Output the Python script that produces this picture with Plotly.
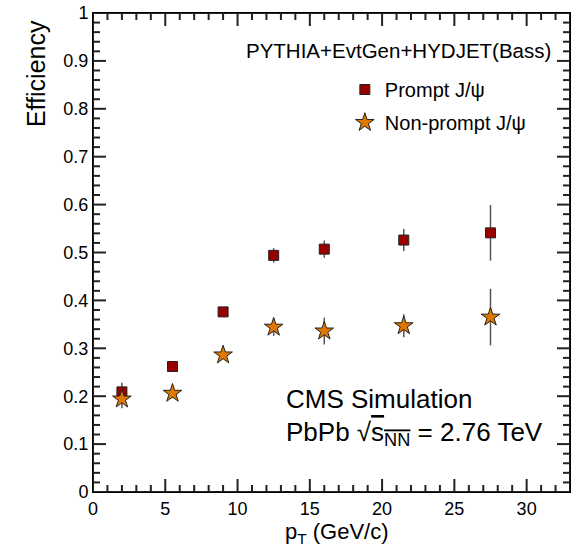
import plotly.graph_objects as go

# J/psi reconstruction efficiency vs pT (PbPb simulation)
pt = [2.0, 5.5, 9.0, 12.5, 16.0, 21.5, 27.5]
prompt_eff = [0.209, 0.262, 0.376, 0.494, 0.507, 0.526, 0.541]
prompt_err = [0.019, 0.006, 0.005, 0.015, 0.018, 0.023, 0.058]
nonprompt_eff = [0.194, 0.206, 0.286, 0.344, 0.336, 0.347, 0.365]
nonprompt_err = [0.019, 0.010, 0.008, 0.018, 0.028, 0.024, 0.059]

series_names = ["Prompt J/ψ", "Non-prompt J/ψ"]
x_range = [0, 33]
y_range = [0, 1]

# tick positions (major labelled, minor unlabelled)
x_major = [0, 5, 10, 15, 20, 25, 30]
x_minor = [v for v in range(0, 34) if v % 5 != 0]
y_major = [round(0.1 * i, 2) for i in range(11)]
y_minor = [round(0.02 * i, 2) for i in range(51) if i % 5 != 0]

FONT = "Liberation Sans, Arial, Helvetica, sans-serif"
ERR_COLOR = "#555555"
TICK_COLOR = "#222222"

W, H = 581, 553
MARGIN = dict(l=93, r=11, t=13, b=61)
plot_w = W - MARGIN["l"] - MARGIN["r"]
plot_h = H - MARGIN["t"] - MARGIN["b"]

# tick lengths in pixels, converted to axis units
MAJOR_PX, MINOR_PX = 13, 7
x_per_px = (x_range[1] - x_range[0]) / plot_w
y_per_px = (y_range[1] - y_range[0]) / plot_h

tick_x, tick_y = [], []
for vals, px in ((x_major, MAJOR_PX), (x_minor, MINOR_PX)):
    ln = px * y_per_px
    for v in vals:
        tick_x += [v, v, None, v, v, None]
        tick_y += [y_range[0], y_range[0] + ln, None, y_range[1], y_range[1] - ln, None]
for vals, px in ((y_major, MAJOR_PX), (y_minor, MINOR_PX)):
    ln = px * x_per_px
    for v in vals:
        tick_x += [x_range[0], x_range[0] + ln, None, x_range[1], x_range[1] - ln, None]
        tick_y += [v, v, None, v, v, None]

# frame around the plotting area
frame_x = [x_range[0], x_range[1], x_range[1], x_range[0], x_range[0]]
frame_y = [y_range[0], y_range[0], y_range[1], y_range[1], y_range[0]]

fig = go.Figure()

# inward ticks on all four sides of the frame
fig.add_trace(go.Scatter(
    x=tick_x, y=tick_y, mode="lines", showlegend=False, hoverinfo="skip",
    connectgaps=False, line=dict(color=TICK_COLOR, width=2),
))
fig.add_trace(go.Scatter(
    x=frame_x, y=frame_y, mode="lines", showlegend=False, hoverinfo="skip",
    line=dict(color=TICK_COLOR, width=2),
))

fig.add_trace(go.Scatter(
    x=pt, y=prompt_eff, mode="markers", name=series_names[0],
    legendgroup="a",
    marker=dict(symbol="square", size=10, color="#990000",
                line=dict(color="#222222", width=1)),
    error_y=dict(type="data", array=prompt_err, visible=True,
                 color=ERR_COLOR, thickness=1.5, width=0),
))

fig.add_trace(go.Scatter(
    x=pt, y=nonprompt_eff, mode="markers", name=series_names[1],
    legendgroup="b",
    marker=dict(symbol="star", size=14, color="#e07800",
                line=dict(color="#222222", width=1)),
    error_y=dict(type="data", array=nonprompt_err, visible=True,
                 color=ERR_COLOR, thickness=1.5, width=0),
))

axis_style = dict(
    showline=True, linecolor="black", linewidth=1, mirror=True,
    automargin=False, ticks="", showgrid=False, zeroline=False,
    tickfont=dict(family=FONT, size=18, color="black"),
)
fig.update_xaxes(range=x_range, tickvals=x_major, **axis_style)
fig.update_yaxes(range=y_range, tickvals=y_major, **axis_style)

annotations = [
    dict(text="Efficiency", x=-0.119, y=0.873, xref="paper", yref="paper",
         textangle=-90, xanchor="center", yanchor="middle", showarrow=False,
         font=dict(family=FONT, size=25, color="black")),
    dict(text="p<sub>T</sub> (GeV/c)", x=0.625, y=-0.086, xref="paper", yref="paper",
         xanchor="right", yanchor="middle", showarrow=False,
         font=dict(family=FONT, size=22, color="black")),
    dict(text="PYTHIA+EvtGen+HYDJET(Bass)", x=0.965, y=0.921, xref="paper", yref="paper",
         xanchor="right", yanchor="middle", showarrow=False,
         font=dict(family=FONT, size=20.5, color="black")),
    dict(text="CMS Simulation", x=0.40, y=0.194, xref="paper", yref="paper",
         xanchor="left", yanchor="middle", showarrow=False,
         font=dict(family=FONT, size=26, color="black")),
    dict(text="PbPb √<span style='text-decoration:overline'>s<sub>NN</sub></span> = 2.76 TeV",
         x=0.40, y=0.122, xref="paper", yref="paper",
         xanchor="left", yanchor="middle", showarrow=False,
         font=dict(family=FONT, size=26, color="black")),
]

fig.update_layout(
    width=W, height=H,
    margin=MARGIN,
    paper_bgcolor="white", plot_bgcolor="white",
    font=dict(family=FONT, color="black"),
    annotations=annotations,
    showlegend=True,
    legend=dict(
        x=0.528, y=0.881, xanchor="left", yanchor="top",
        bgcolor="rgba(0,0,0,0)", borderwidth=0,
        font=dict(family=FONT, size=20, color="black"),
        traceorder="grouped", tracegroupgap=4,
    ),
)

fig.write_html("out.html")
